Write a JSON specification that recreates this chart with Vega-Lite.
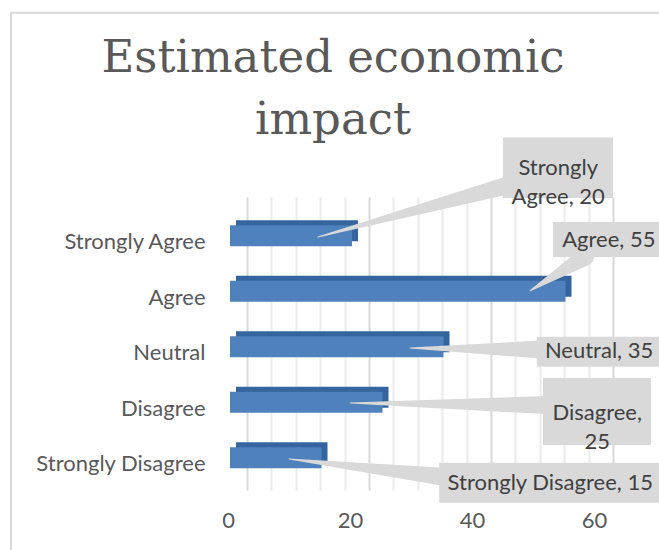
{
  "$schema": "https://vega.github.io/schema/vega-lite/v6.json",
  "autosize": {"type": "none"},
  "padding": {"left": 230, "top": 197, "right": 63, "bottom": 60},
  "width": 366,
  "height": 293,
  "background": "white",
  "config": {"view": {"stroke": null}, "font": "Lato"},
  "title": {
    "text": ["Estimated economic", "impact"],
    "font": "DejaVu Serif",
    "fontSize": 45,
    "fontWeight": "normal",
    "color": "#595959",
    "lineHeight": 62,
    "anchor": "middle",
    "frame": "group",
    "dx": -80,
    "dy": 135
  },
  "datasets": {
    "survey": [
      {"cat": "Strongly Disagree", "score": 1, "value": 15},
      {"cat": "Disagree", "score": 2, "value": 25},
      {"cat": "Neutral", "score": 3, "value": 35},
      {"cat": "Agree", "score": 4, "value": 55},
      {"cat": "Strongly Agree", "score": 5, "value": 20}
    ],
    "callouts": [
      {"cat": "Strongly Agree", "lines": ["Strongly", "Agree, 20"], "bx": 44.75, "bx2": 62.8, "by": 5.68, "by2": 6.77, "tx": 53.8, "ty": 6.23},
      {"cat": "Agree", "lines": ["Agree, 55"], "bx": 52.95, "bx2": 71.3, "by": 4.62, "by2": 5.25, "tx": 62.1, "ty": 4.93},
      {"cat": "Neutral", "lines": ["Neutral, 35"], "bx": 50.3, "bx2": 71.3, "by": 2.64, "by2": 3.18, "tx": 60.5, "ty": 2.92},
      {"cat": "Disagree", "lines": ["Disagree,", "25"], "bx": 51.3, "bx2": 69.0, "by": 1.23, "by2": 2.44, "tx": 60.2, "ty": 1.8},
      {"cat": "Strongly Disagree", "lines": ["Strongly Disagree, 15"], "bx": 34.3, "bx2": 71.3, "by": 0.19, "by2": 0.91, "tx": 52.5, "ty": 0.54}
    ],
    "pointers": [
      {"cat": "Strongly Agree", "o": 0, "wx": 14.4, "wy": 4.98},
      {"cat": "Strongly Agree", "o": 1, "wx": 45.9, "wy": 5.92},
      {"cat": "Agree", "o": 0, "wx": 49.2, "wy": 4.01},
      {"cat": "Agree", "o": 1, "wx": 58.2, "wy": 4.62},
      {"cat": "Neutral", "o": 0, "wx": 29.5, "wy": 2.98},
      {"cat": "Neutral", "o": 1, "wx": 50.8, "wy": 2.95},
      {"cat": "Disagree", "o": 0, "wx": 19.7, "wy": 1.99},
      {"cat": "Disagree", "o": 1, "wx": 51.8, "wy": 1.95},
      {"cat": "Strongly Disagree", "o": 0, "wx": 9.7, "wy": 0.98},
      {"cat": "Strongly Disagree", "o": 1, "wx": 34.8, "wy": 0.66}
    ]
  },
  "resolve": {"axis": {"x": "independent"}},
  "layer": [
    {
      "data": {"name": "survey"},
      "mark": {"type": "bar", "orient": "horizontal", "size": 21, "color": "#35659f", "xOffset": 6, "yOffset": -5},
      "encoding": {
        "x": {
          "field": "value", "type": "quantitative",
          "scale": {"domain": [0, 60], "nice": false, "zero": false, "padding": 0},
          "axis": {
            "orient": "bottom",
            "values": [0, 20, 40, 60],
            "labelOverlap": false,
            "labelFlush": false,
            "grid": true,
            "gridColor": "#d9d9d9",
            "gridWidth": 2,
            "tickOffset": 17,
            "labelOffset": -19,
            "domain": false,
            "ticks": false,
            "title": null,
            "labelFont": "Lato",
            "labelFontSize": 22,
            "labelColor": "#595959",
            "labelPadding": 20
          }
        },
        "y": {
          "field": "score", "type": "quantitative",
          "scale": {"domain": [0.42, 5.7], "nice": false, "zero": false, "padding": 0},
          "axis": {
            "values": [1, 2, 3, 4, 5],
            "labelExpr": "['', 'Strongly Disagree', 'Disagree', 'Neutral', 'Agree', 'Strongly Agree'][datum.value]",
            "labelOverlap": false,
            "labelFlush": false,
            "grid": false,
            "domain": false,
            "ticks": false,
            "title": null,
            "labelFont": "Lato",
            "labelFontSize": 22,
            "labelColor": "#595959",
            "labelPadding": 25,
            "labelOffset": 6
          }
        }
      }
    },
    {
      "data": {"name": "survey"},
      "mark": {"type": "bar", "orient": "horizontal", "size": 21, "color": "#4f81bd"},
      "encoding": {
        "x": {
          "field": "value", "type": "quantitative",
          "axis": {
            "orient": "bottom",
            "values": [4, 8, 12, 16, 24, 28, 32, 36, 44, 48, 52, 56],
            "labels": false,
            "grid": true,
            "gridColor": "#ececec",
            "gridWidth": 2,
            "tickOffset": 17,
            "domain": false,
            "ticks": false,
            "title": null
          }
        },
        "y": {"field": "score", "type": "quantitative"}
      }
    },
    {
      "data": {"name": "pointers"},
      "mark": {"type": "trail", "color": "#d9d9d9", "clip": false},
      "encoding": {
        "x": {"field": "wx", "type": "quantitative", "axis": null},
        "y": {"field": "wy", "type": "quantitative"},
        "detail": {"field": "cat"},
        "order": {"field": "o"},
        "size": {"field": "o", "type": "quantitative", "scale": {"domain": [0, 1], "range": [0, 18]}, "legend": null}
      }
    },
    {
      "data": {"name": "callouts"},
      "mark": {"type": "rect", "color": "#d9d9d9", "clip": false},
      "encoding": {
        "x": {"field": "bx", "type": "quantitative", "axis": null},
        "x2": {"field": "bx2"},
        "y": {"field": "by", "type": "quantitative"},
        "y2": {"field": "by2"}
      }
    },
    {
      "data": {"name": "callouts"},
      "mark": {"type": "text", "font": "Lato", "fontSize": 22, "color": "#404040", "lineHeight": 29, "align": "center", "baseline": "middle", "clip": false},
      "encoding": {
        "x": {"field": "tx", "type": "quantitative", "axis": null},
        "y": {"field": "ty", "type": "quantitative"},
        "text": {"field": "lines"}
      }
    },
    {
      "data": {"values": [{}]},
      "mark": {"type": "rect", "filled": false, "stroke": "#d9d9d9", "strokeWidth": 2, "clip": false},
      "encoding": {
        "x": {"datum": -35.9, "type": "quantitative", "axis": null},
        "x2": {"datum": 80},
        "y": {"datum": 9.02, "type": "quantitative"},
        "y2": {"datum": -5}
      }
    }
  ]
}
